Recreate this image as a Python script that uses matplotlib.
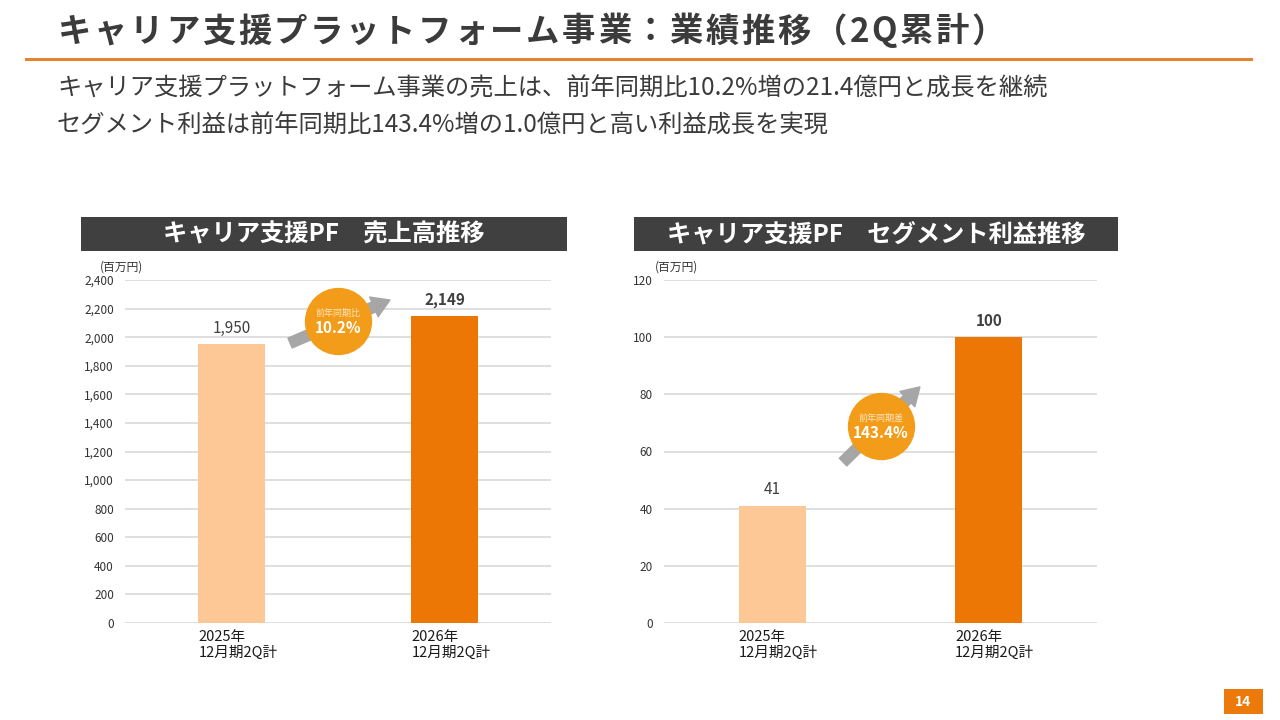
import matplotlib
matplotlib.use("Agg")
import matplotlib.pyplot as plt
from matplotlib.patches import Rectangle

plt.rcParams['font.family'] = ['Noto Sans CJK JP', 'DejaVu Sans']

# -------------------------------------------------
# Data
# -------------------------------------------------
categories = ['2025年\n12月期2Q計', '2026年\n12月期2Q計']
sales = [1950, 2149]          # 売上高 (百万円)
profit = [41, 100]            # セグメント利益 (百万円)
sales_growth = '10.2%'
profit_growth = '143.4%'

sales_ticks = list(range(0, 2401, 200))
profit_ticks = list(range(0, 121, 20))

title = 'キャリア支援プラットフォーム事業：業績推移（2Q累計）'
summary = ['キャリア支援プラットフォーム事業の売上は、前年同期比10.2%増の21.4億円と成長を継続',
           'セグメント利益は前年同期比143.4%増の1.0億円と高い利益成長を実現']
headers = ['キャリア支援PF　売上高推移', 'キャリア支援PF　セグメント利益推移']

# colours
DARK = '#3b3b3b'
GRID = '#d9d9d9'
LIGHT_BAR = '#fec896'
DARK_BAR = '#ec7704'
BUBBLE = '#f39c1a'
ARROW = '#a6a6a6'
ORANGE = '#e5842a'

W, H = 1280, 720
fig = plt.figure(figsize=(12.8, 7.2), dpi=100)
renderer = fig.canvas.get_renderer()


def fx(px):
    return px / W


def fy(py):
    return 1 - py / H


def spaced_text(x_px, y_px, s, spacing_px, **kw):
    # draw text char by char to get the wide letter spacing of the slide title
    x = x_px
    for ch in s:
        t = fig.text(fx(x), fy(y_px), ch, ha='left', va='center', **kw)
        x += t.get_window_extent(renderer).width + spacing_px


# -------------------------------------------------
# Slide header
# -------------------------------------------------
spaced_text(58, 32, title, 2.6, fontsize=24, fontweight='bold', color=DARK)
fig.add_artist(Rectangle((fx(25), fy(60.5)), fx(1228), 3 / H, color=ORANGE,
                         transform=fig.transFigure, lw=0))
for i, line in enumerate(summary):
    fig.text(fx(57), fy(89 + 37 * i), line, fontsize=17.5, color=DARK,
             ha='left', va='center')

# page number
fig.add_artist(Rectangle((fx(1224), fy(714)), fx(39), 25 / H, color='#ec7a0a',
                         transform=fig.transFigure, lw=0))
fig.text(fx(1243.5), fy(701.5), '14', fontsize=10, fontweight='bold',
         color='white', ha='center', va='center')


# -------------------------------------------------
# Bar panels
# -------------------------------------------------
def draw_panel(box_x, ax_left, ax_right, unit_x, header, values, ticks, growth,
               growth_label, bubble_xy, arrow_tail, arrow_tip):
    # dark header box
    fig.add_artist(Rectangle((fx(box_x[0]), fy(251)), fx(box_x[1] - box_x[0]),
                             34 / H, color='#404040', transform=fig.transFigure,
                             lw=0))
    fig.text(fx((box_x[0] + box_x[1]) / 2), fy(234), header, fontsize=17.5,
             fontweight='bold', color='white', ha='center', va='center')

    ax = fig.add_axes([fx(ax_left), fy(623), fx(ax_right - ax_left),
                       (623 - 280) / H])
    x = list(range(len(values)))
    width = 0.31
    ax.bar(x, values, width=width, color=[LIGHT_BAR, DARK_BAR], zorder=3)

    ax.set_xlim(-0.5, len(values) - 0.5)
    ax.set_ylim(ticks[0], ticks[-1])
    ax.set_yticks(ticks)
    ax.set_yticklabels([f'{t:,}' for t in ticks], fontsize=8.5, color='#333333')
    ax.yaxis.grid(True, color=GRID, lw=1.2, zorder=0)
    ax.set_axisbelow(True)
    for s in ax.spines.values():
        s.set_visible(False)
    ax.tick_params(axis='both', length=0, pad=8)

    # category labels, left aligned at bar edge
    ax.set_xticks([i - width / 2 for i in x])
    ax.set_xticklabels(categories, fontsize=10.5, color='#1a1a1a', ha='left',
                       linespacing=1.2)
    ax.tick_params(axis='x', pad=5)

    fig.text(fx(unit_x), fy(267), '(百万円)', fontsize=8.5, color='#333333',
             ha='left', va='center')

    # value labels
    for i, v in enumerate(values):
        ax.annotate(f'{v:,}', (i, v), xytext=(0, 11.5), textcoords='offset points',
                    ha='center', va='center', fontsize=11,
                    fontweight='bold' if i == len(values) - 1 else 'normal',
                    color='#404040')

    # growth arrow + bubble
    ax.annotate('', xy=arrow_tip, xytext=arrow_tail,
                arrowprops=dict(arrowstyle='simple,head_length=0.9,head_width=1.1,tail_width=0.55',
                                color=ARROW, mutation_scale=14, shrinkA=0, shrinkB=0),
                zorder=4)
    ax.scatter([bubble_xy[0]], [bubble_xy[1]], s=2350, color=BUBBLE, zorder=5,
               clip_on=False, lw=0)
    ax.annotate(growth_label, bubble_xy, xytext=(0, 5.5), textcoords='offset points',
                ha='center', va='center', fontsize=6.5, color='#fde6c4', zorder=6)
    ax.annotate(growth, bubble_xy, xytext=(0, -5), textcoords='offset points',
                ha='center', va='center', fontsize=11, fontweight='bold',
                color='white', zorder=6)
    return ax


draw_panel((81, 567), 125, 551, 100, headers[0], sales, sales_ticks, sales_growth,
           '前年同期比', (0.5, 2113), (0.275, 1959), (0.744, 2260))
draw_panel((634, 1118), 664, 1097, 655, headers[1], profit, profit_ticks, profit_growth,
           '前年同期差', (0.502, 69), (0.327, 56.3), (0.682, 82.6))

fig.savefig('out.png', dpi=100)
